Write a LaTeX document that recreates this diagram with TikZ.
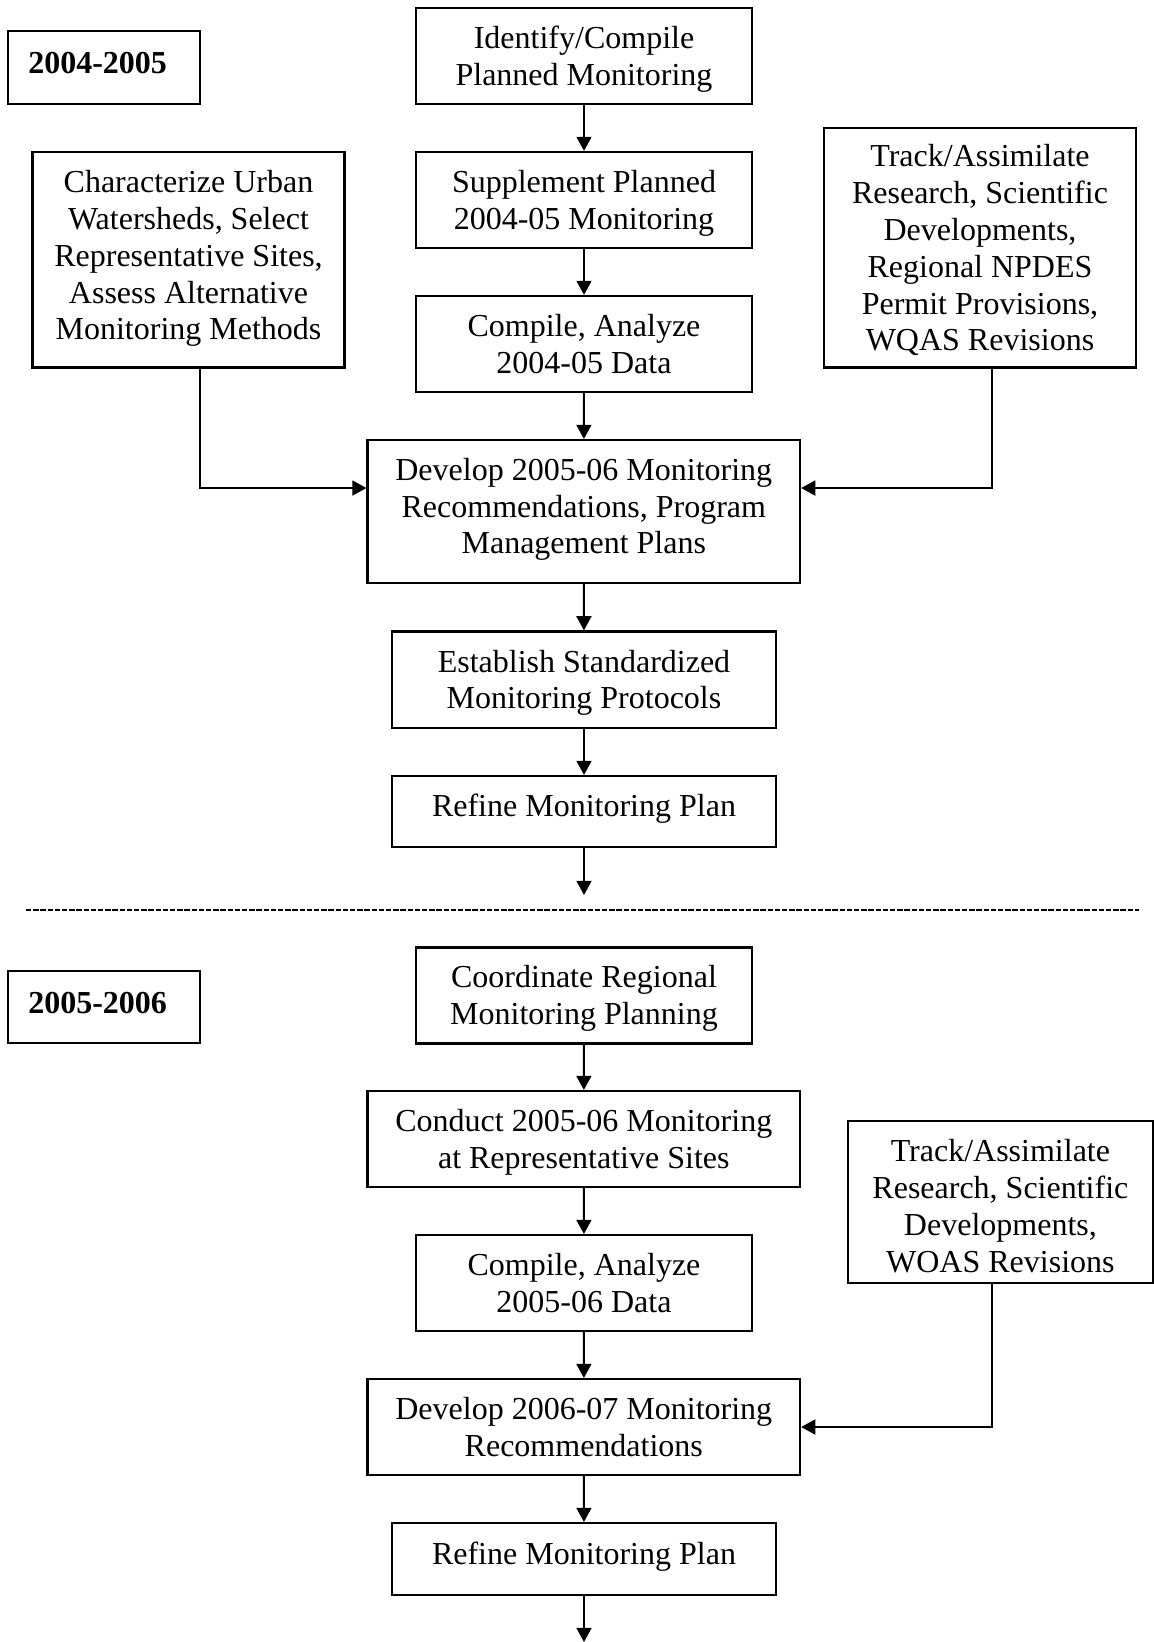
\documentclass[tikz,border=0pt]{standalone}
\usepackage{fontspec}
\setmainfont{Liberation Serif}
\usetikzlibrary{arrows.meta}

\begin{document}
\begin{tikzpicture}[x=0.375pt, y=-0.375pt,
        box/.style={draw, line width=0.8pt, align=center, inner sep=0pt,
            text depth=0.2pt, font=\fontsize{12}{13.8}\selectfont},
        narrow/.style={box, minimum width=126pt, minimum height=36pt},
        mid/.style={box, minimum width=144.2pt},
        wide/.style={box, minimum width=162.2pt, minimum height=36pt},
        yearbox/.style={draw, line width=0.8pt, minimum height=27.1pt,
            inner xsep=7.5pt, text width=56.9pt, align=left, text depth=3.2pt,
            font=\fontsize{12}{13.8}\selectfont\bfseries},
        flow/.style={line width=0.75pt, -{Triangle[length=5.3pt, width=5.6pt]}}]
    \useasboundingbox (0,0) rectangle (1154,1642);

    % 2004-2005
    \node[yearbox] (yearA) at (104.2,67.5) {2004-2005};
    \node[narrow] (ident) at (584,56) {Identify/Compile\\Planned Monitoring};
    \node[narrow] (supp) at (584,200) {Supplement Planned\\2004-05 Monitoring};
    \node[narrow, text depth=0pt] (compA) at (584,344) {Compile, Analyze\\2004-05 Data};
    \node[box, minimum width=117pt, minimum height=80.8pt, text depth=3.4pt] (charA) at (188.5,259.8)
        {Characterize Urban\\Watersheds, Select\\Representative Sites,\\Assess Alternative\\Monitoring Methods};
    \node[box, minimum width=117pt, minimum height=89.8pt, text depth=0pt] (trackA) at (980,247.7)
        {Track/Assimilate\\Research, Scientific\\Developments,\\Regional NPDES\\Permit Provisions,\\WQAS Revisions};
    \node[wide, minimum height=53.6pt, text depth=4.2pt] (devA) at (583.8,511.5)
        {Develop 2005-06 Monitoring\\Recommendations, Program\\Management Plans};
    \node[mid, minimum height=36.2pt] (estab) at (584,679.7)
        {Establish Standardized\\Monitoring Protocols};
    \node[mid, minimum height=26.6pt, text depth=5pt] (refA) at (584,811.5) {Refine Monitoring Plan};
    \coordinate (endA) at (584,895);

    \draw[flow] (ident) -- (supp);
    \draw[flow] (supp) -- (compA);
    \draw[flow] (compA) -- (devA);
    \draw[flow] (devA) -- (estab);
    \draw[flow] (estab) -- (refA);
    \draw[flow] (refA) -- (endA);
    \draw[flow] ([xshift=4.3pt]charA.south) |- ([yshift=8.8pt]devA.west);
    \draw[flow] ([xshift=4.4pt]trackA.south) |- ([yshift=8.8pt]devA.east);

    \draw[line width=1.1pt, dash pattern=on 2pt off 0.7pt] (26,910) -- (1139,910);

    % 2005-2006
    \node[yearbox] (yearB) at (104.2,1007) {2005-2006};
    \node[narrow] (coord) at (584,995.5) {Coordinate Regional\\Monitoring Planning};
    \node[wide, text depth=0pt] (cond) at (583.8,1139) {Conduct 2005-06 Monitoring\\at Representative Sites};
    \node[narrow, text depth=0pt] (compB) at (584,1283) {Compile, Analyze\\2005-06 Data};
    \node[box, minimum width=114.5pt, minimum height=60.75pt, text depth=0pt] (trackB) at (1000.4,1201.7)
        {\rule{0pt}{11.4pt}Track/Assimilate\\Research, Scientific\\Developments,\\WOAS Revisions};
    \node[wide, text depth=0pt] (devB) at (583.8,1427) {Develop 2006-07 Monitoring\\Recommendations};
    \node[mid, minimum height=27pt, text depth=4.2pt] (refB) at (584,1559) {Refine Monitoring Plan};
    \coordinate (endB) at (584,1642);

    \draw[flow] (coord) -- (cond);
    \draw[flow] (cond) -- (compB);
    \draw[flow] (compB) -- (devB);
    \draw[flow] (devB) -- (refB);
    \draw[flow] (refB) -- (endB);
    \draw[flow] ([xshift=-3.2pt]trackB.south) |- (devB.east);
\end{tikzpicture}
\end{document}
